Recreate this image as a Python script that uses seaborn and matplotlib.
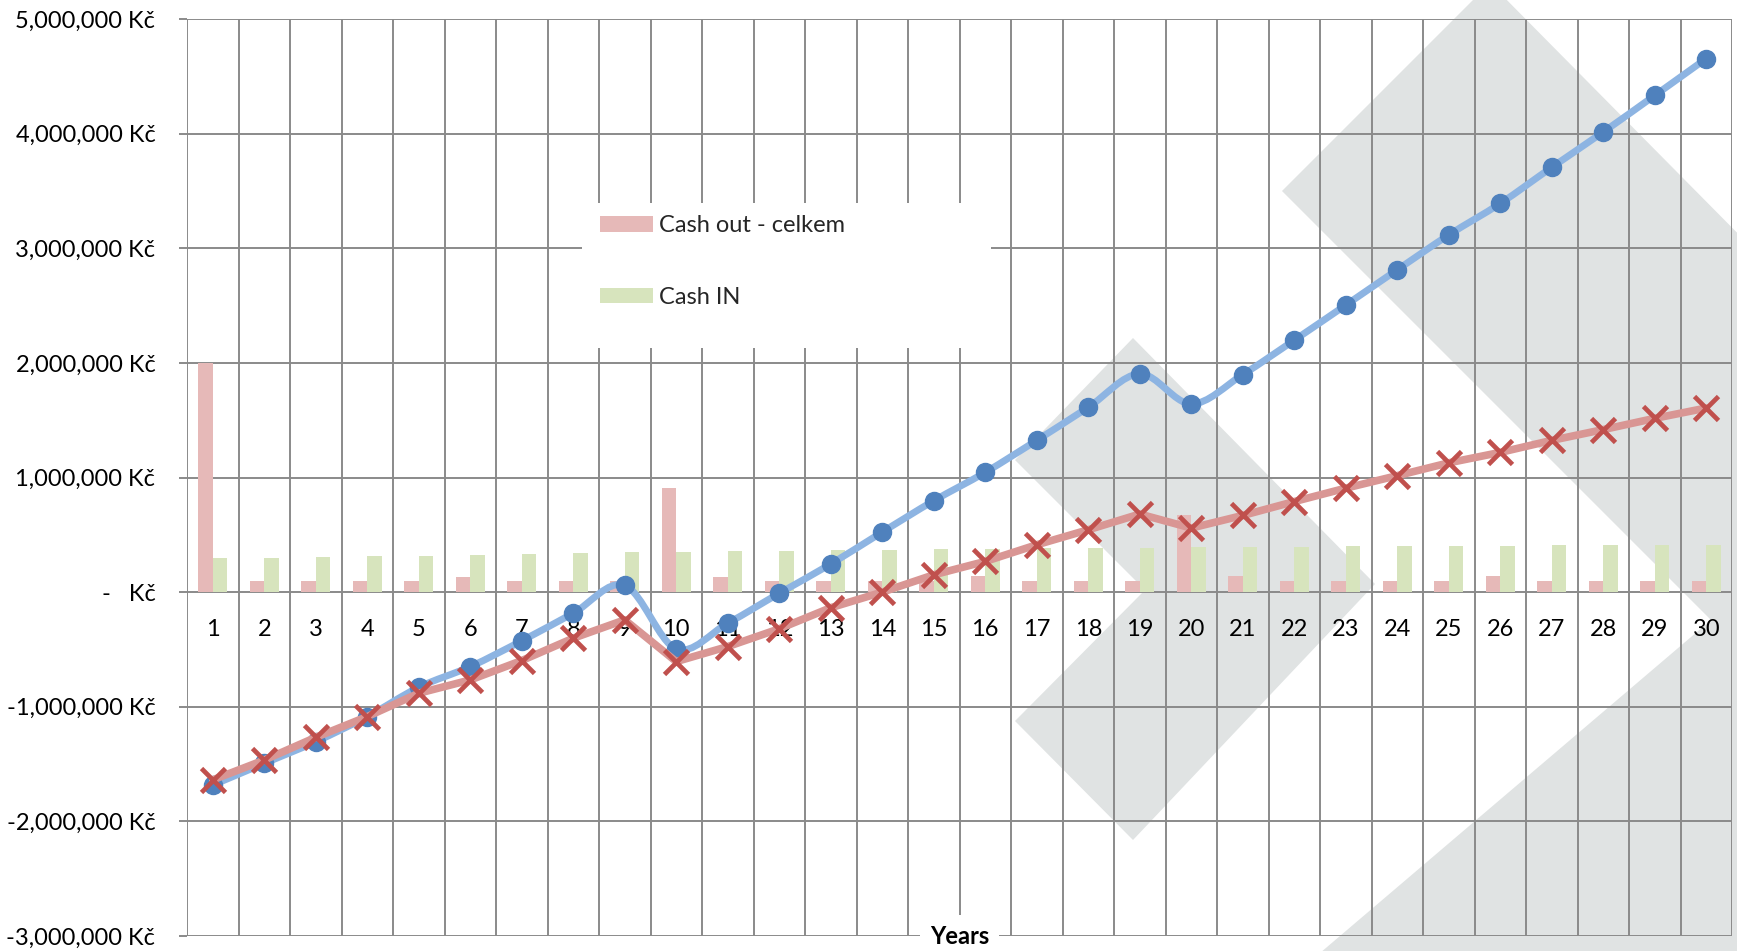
import numpy as np
import pandas as pd
import matplotlib
matplotlib.use("Agg")
import matplotlib.pyplot as plt
import seaborn as sns
from matplotlib.patches import Polygon, Rectangle, PathPatch, Patch
from matplotlib.path import Path
from matplotlib.ticker import FuncFormatter, FixedLocator, MultipleLocator

# ---- data -------------------------------------------------------------
years = list(range(1, 31))

cash_out = [2000000, 100000, 100000, 100000, 100000, 134000, 100000, 100000, 100000, 905000,
            134000, 100000, 100000, 100000, 100000, 138000, 100000, 100000, 100000, 670000,
            138000, 100000, 100000, 100000, 100000, 138000, 100000, 100000, 100000, 100000]

cash_in = [297000, 302000, 308000, 314000, 319000, 326000, 334000, 341000, 347000, 353000,
           358000, 362000, 366000, 370000, 374000, 378000, 381000, 384000, 388000, 391000,
           394000, 397000, 399000, 401000, 404000, 406000, 409000, 411000, 412000, 414000]

net_worth = [-1683000, -1494000, -1305000, -1086000, -830000, -650000, -425000, -184000, 58000, -495000,
             -271000, -10000, 245000, 524000, 797000, 1045000, 1324000, 1612000, 1904000, 1642000,
             1898000, 2198000, 2504000, 2812000, 3116000, 3391000, 3706000, 4014000, 4333000, 4655000]

cumulative_cash = [-1638000, -1465000, -1267000, -1086000, -882000, -766000, -597000, -402000, -242000, -606000,
                   -475000, -320000, -136000, 0, 151000, 268000, 413000, 544000, 681000, 559000,
                   669000, 790000, 907000, 1016000, 1128000, 1219000, 1324000, 1418000, 1516000, 1606000]

bar_labels = ["Cash out - celkem", "Cash IN"]

# ---- style ------------------------------------------------------------
PINK = "#e6b9b8"
GREEN = "#d7e4bd"
BLUE_LINE = "#8db4e2"
BLUE_DOT = "#4f81bd"
RED_LINE = "#d99694"
RED_X = "#c0504d"
GRID = "#8a8a8a"
LOGO = "#e0e3e3"

sns.set_theme(style="white")
plt.rcParams["font.family"] = ["Lato", "DejaVu Sans"]

W, H = 1737, 951
fig = plt.figure(figsize=(W / 100, H / 100), dpi=100, facecolor="white")

# faint logo behind the chart (pixel space, y downward)
bg = fig.add_axes([0, 0, 1, 1], zorder=0)
bg.set_xlim(0, W)
bg.set_ylim(H, 0)
bg.axis("off")
logo_shapes = [
    [(1282, 191), (1490, -17), (2140, 640), (1475, 1200), (1030, 1200), (1711, 620)],
    [(1015, 460), (1133, 338), (1375, 584), (1133, 840), (1015, 721), (1145, 590)],
]
for shape in logo_shapes:
    bg.add_patch(Polygon(shape, closed=True, fc=LOGO, ec="none", lw=0))

# main chart area
L, R, T, B = 187, 1732, 19, 936
ax = fig.add_axes([L / W, 1 - B / H, (R - L) / W, (B - T) / H], zorder=1)
ax.set_facecolor("none")

df = pd.DataFrame({
    "Year": years * 2,
    "Amount": cash_out + cash_in,
    "Series": [bar_labels[0]] * len(years) + [bar_labels[1]] * len(years),
})
sns.barplot(data=df, x="Year", y="Amount", hue="Series", hue_order=bar_labels,
            palette=[PINK, GREEN], saturation=1, width=0.56, dodge=True,
            edgecolor="none", linewidth=0, legend=False, ax=ax, zorder=2)

pos = np.arange(len(years), dtype=float)


def smooth_path(xs, ys):
    """Cubic Bezier path through the points (Catmull-Rom style tangents)."""
    pts = np.column_stack([xs, ys]).astype(float)
    n = len(pts)
    verts = [pts[0]]
    codes = [Path.MOVETO]
    for i in range(n - 1):
        p0 = pts[i - 1] if i > 0 else pts[i]
        p1 = pts[i]
        p2 = pts[i + 1]
        p3 = pts[i + 2] if i + 2 < n else pts[i + 1]
        verts += [p1 + (p2 - p0) / 6.0, p2 - (p3 - p1) / 6.0, p2]
        codes += [Path.CURVE4] * 3
    return Path(np.array(verts), codes)


# blue series: smoothed line with round markers
ax.add_patch(PathPatch(smooth_path(pos, net_worth), fill=False, ec=BLUE_LINE, lw=5,
                       capstyle="round", joinstyle="round", zorder=3))
ax.plot(pos, net_worth, ls="none", marker="o", ms=13, color=BLUE_DOT, mec=BLUE_DOT, zorder=4)

# red series: straight line with x markers
sns.lineplot(x=pos, y=cumulative_cash, color=RED_LINE, linewidth=5.5, ax=ax, zorder=5,
             solid_capstyle="round", solid_joinstyle="round")
ax.plot(pos, cumulative_cash, ls="none", marker="x", ms=17.5, mew=3.4, color=RED_X, zorder=6)

# axes, grid, ticks
ax.set_xlim(-0.5, len(years) - 0.5)
ax.set_ylim(-3e6, 5e6)
ax.yaxis.set_major_locator(MultipleLocator(1e6))


def kc(v, _):
    if abs(v) < 1:
        return "-   Kč"
    return f"{v:,.0f} Kč"


ax.yaxis.set_major_formatter(FuncFormatter(kc))
ax.set_xticks(pos)
ax.set_xticklabels([str(y) for y in years])
ax.xaxis.set_minor_locator(FixedLocator(np.arange(-0.5, len(years), 1.0)))

ax.set_axisbelow(True)
ax.grid(False)
ax.grid(True, which="minor", axis="x", color=GRID, lw=1.4)
ax.grid(True, which="major", axis="y", color=GRID, lw=1.4)
for s in ax.spines.values():
    s.set_visible(False)
ax.spines["bottom"].set_position(("data", 0))

ax.tick_params(axis="x", which="both", bottom=False, length=0, pad=19, labelsize=17,
               labelcolor="black")
ax.tick_params(axis="y", which="major", left=True, length=5.8, width=1.4, color=GRID,
               pad=17, labelsize=17, labelcolor="black")
ax.set_xlabel("")
ax.set_ylabel("")

ax.text(0.5, 0.0, "Years", transform=ax.transAxes, ha="center", va="center",
        fontsize=17, fontweight="bold", color="black", zorder=10, clip_on=False,
        bbox=dict(boxstyle="square,pad=0.4", fc="white", ec="none"))

# legend panel
lx0, lx1, ly0, ly1 = 582, 991, 203, 348
ax.add_patch(Rectangle(((lx0 - L) / (R - L), (B - ly1) / (B - T)),
                       (lx1 - lx0) / (R - L), (ly1 - ly0) / (B - T),
                       transform=ax.transAxes, fc="white", ec="none", lw=0, zorder=1))
handles = [Patch(fc=PINK, ec="none", lw=0), Patch(fc=GREEN, ec="none", lw=0)]
ax.legend(handles, bar_labels, loc="upper left",
          bbox_to_anchor=((600 - L) / (R - L), (B - 215) / (B - T)),
          frameon=False, fontsize=17, handlelength=2.25, handleheight=0.64,
          handletextpad=0.25, labelspacing=2.15, borderpad=0, borderaxespad=0)

fig.savefig("out.png", dpi=100, facecolor="white")
